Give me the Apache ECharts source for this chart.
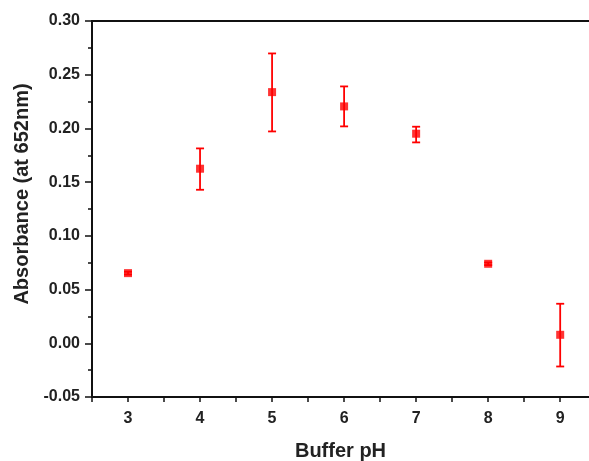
<!DOCTYPE html>
<html>
<head>
<meta charset="utf-8">
<script src="https://cdn.jsdelivr.net/npm/echarts@6/dist/echarts.min.js"></script>
<style>
  html, body { margin: 0; padding: 0; background: #fff; }
  #chart { width: 589px; height: 461px; }
</style>
</head>
<body>
<div id="chart"></div>
<script>
const ph = [3, 4, 5, 6, 7, 8, 9]
const absorbance = [0.0653, 0.1625, 0.2338, 0.2205, 0.1951, 0.0740, 0.0079]
const errLow = [0.0640, 0.1429, 0.1972, 0.2019, 0.1870, 0.0728, -0.0216]
const errHigh = [0.0666, 0.1814, 0.2698, 0.2391, 0.2016, 0.0752, 0.0368]
const yTickLabels = ['-0.05', '0.00', '0.05', '0.10', '0.15', '0.20', '0.25', '0.30']

const font = 'Liberation Sans, Arial, sans-serif'
const red = '#ff0000'

const chart = echarts.init(document.getElementById('chart'))

const points = ph.map((x, i) => [x, absorbance[i]])
const bars = ph.map((x, i) => [x, errLow[i], errHigh[i]])

chart.setOption({
  animation: false,
  grid: { left: 92, right: 0, top: 21, bottom: 64, outerBoundsMode: 'none' },
  xAxis: [
    {
      type: 'value',
      min: 2.5,
      max: 9.4,
      interval: 0.5,
      name: 'Buffer pH',
      nameLocation: 'middle',
      nameGap: 44,
      nameTextStyle: { fontFamily: font, fontWeight: 'bold', fontSize: 20, color: '#222' },
      axisLine: { onZero: false, lineStyle: { color: '#111', width: 2 } },
      axisTick: { inside: false, length: 5, lineStyle: { color: '#111', width: 1.5 } },
      axisLabel: {
        fontFamily: font, fontWeight: 'bold', fontSize: 16, color: '#222', margin: 14,
        showMaxLabel: false,
        formatter: v => (Math.abs(v - Math.round(v)) < 1e-6 && v >= 3 && v <= 9) ? String(Math.round(v)) : ''
      },
      splitLine: { show: false }
    },
    {
      type: 'value',
      position: 'top',
      min: 2.5,
      max: 9.4,
      axisLine: { show: true, onZero: false, lineStyle: { color: '#111', width: 2 } },
      axisTick: { show: false },
      axisLabel: { show: false },
      splitLine: { show: false }
    }
  ],
  yAxis: {
    type: 'value',
    min: -0.05,
    max: 0.30,
    interval: 0.05,
    name: 'Absorbance (at 652nm)',
    nameLocation: 'middle',
    nameGap: 58,
    nameTextStyle: { fontFamily: font, fontWeight: 'bold', fontSize: 20, color: '#222', padding: [0, 0, 0, 30] },
    axisLine: { show: true, lineStyle: { color: '#111', width: 2 } },
    axisTick: { length: 7, lineStyle: { color: '#111', width: 1.5 } },
    minorTick: { show: true, splitNumber: 2, length: 4, lineStyle: { color: '#111', width: 1.5 } },
    axisLabel: {
      fontFamily: font, fontWeight: 'bold', fontSize: 16, color: '#222', margin: 12,
      formatter: v => yTickLabels[Math.round((v + 0.05) / 0.05)]
    },
    splitLine: { show: false }
  },
  series: [
    {
      type: 'custom',
      xAxisIndex: 0,
      data: bars,
      renderItem: (params, api) => {
        const lo = api.coord([api.value(0), api.value(1)])
        const hi = api.coord([api.value(0), api.value(2)])
        const cap = 4
        const style = { stroke: red, lineWidth: 1.8 }
        return {
          type: 'group',
          children: [
            { type: 'line', shape: { x1: lo[0], y1: lo[1], x2: hi[0], y2: hi[1] }, style },
            { type: 'line', shape: { x1: lo[0] - cap, y1: lo[1], x2: lo[0] + cap, y2: lo[1] }, style },
            { type: 'line', shape: { x1: hi[0] - cap, y1: hi[1], x2: hi[0] + cap, y2: hi[1] }, style }
          ]
        }
      },
      z: 2
    },
    {
      type: 'scatter',
      xAxisIndex: 0,
      data: points,
      symbol: 'rect',
      symbolSize: 8,
      itemStyle: { color: red },
      z: 3
    }
  ]
})
</script>
</body>
</html>
